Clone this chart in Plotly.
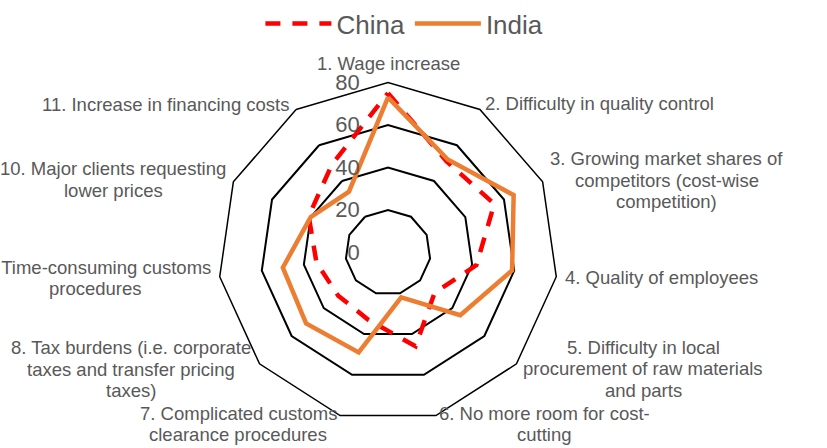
import plotly.graph_objects as go

# Survey categories (clockwise from the top)
categories = [
    "1. Wage increase",
    "2. Difficulty in quality control",
    "3. Growing market shares of competitors (cost-wise competition)",
    "4. Quality of employees",
    "5. Difficulty in local procurement of raw materials and parts",
    "6. No more room for cost-cutting",
    "7. Complicated customs clearance procedures",
    "8. Tax burdens (i.e. corporate taxes and transfer pricing taxes)",
    "9. Time-consuming customs procedures",
    "10. Major clients requesting lower prices",
    "11. Increase in financing costs",
]

china = [75, 51, 55, 42, 29, 46, 33, 31, 34, 41, 49]
india = [73, 52, 65, 59, 45, 22, 49, 51, 50, 40, 34]

radial_ticks = [0, 20, 40, 60, 80]

# Wrapped category labels as shown around the chart
label_lines = [
    ["1. Wage increase"],
    ["2. Difficulty in quality control"],
    ["3. Growing market shares of", "competitors (cost-wise", "competition)"],
    ["4. Quality of employees"],
    ["5. Difficulty in local", "procurement of raw materials", "and parts"],
    ["6. No more room for cost-", "cutting"],
    ["7. Complicated customs", "clearance procedures"],
    ["8. Tax burdens (i.e. corporate", "taxes and transfer pricing", "taxes)"],
    ["9. Time-consuming customs", "procedures"],
    ["10. Major clients requesting", "lower prices"],
    ["11. Increase in financing costs"],
]
# Pixel anchor (centre x, first-line y) of each wrapped label
label_pos = [
    (388, 64), (599, 103), (666.5, 158.5), (661, 277.5), (643, 347),
    (544.5, 413), (238, 413), (130.5, 347.5), (95.5, 267), (113, 169), (166, 104),
]

W, H = 827, 448
CX, CY, R = 388, 252.5, 170
GRAY = "#595959"
FONT = "Liberation Sans, Arial, sans-serif"
LINE_H = 21.5

fig = go.Figure()
fig.add_trace(go.Scatterpolar(
    r=china + china[:1], theta=categories + categories[:1],
    mode="lines", name="China",
    line=dict(color="#FF0000", width=4.5, dash="15px,12px"),
))
fig.add_trace(go.Scatterpolar(
    r=india + india[:1], theta=categories + categories[:1],
    mode="lines", name="India",
    line=dict(color="#ED7D31", width=4.5),
))

annotations = []
for lines, (px, py) in zip(label_lines, label_pos):
    for i, txt in enumerate(lines):
        annotations.append(dict(
            text=txt, xref="paper", yref="paper",
            x=px / W, y=1 - (py + i * LINE_H) / H,
            xanchor="center", yanchor="middle", showarrow=False,
            font=dict(family=FONT, size=18.5, color=GRAY),
        ))

fig.update_layout(
    width=W, height=H,
    margin=dict(l=0, r=0, t=0, b=0),
    paper_bgcolor="white", plot_bgcolor="white",
    font=dict(family=FONT, color=GRAY),
    showlegend=True,
    legend=dict(
        orientation="h", x=0.489, xanchor="center", y=1.0, yanchor="top",
        font=dict(family=FONT, size=26, color=GRAY),
        itemwidth=66, bgcolor="rgba(0,0,0,0)",
    ),
    polar=dict(
        domain=dict(x=[(CX - R) / W, (CX + R) / W],
                    y=[1 - (CY + R) / H, 1 - (CY - R) / H]),
        gridshape="linear",
        bgcolor="white",
        angularaxis=dict(
            direction="clockwise", rotation=90,
            showgrid=False, showticklabels=False, ticks="",
            showline=True, linecolor="black", linewidth=1.5,
        ),
        radialaxis=dict(
            range=[0, 80], tickvals=radial_ticks, angle=90, tickangle=90,
            showline=False, showgrid=True, gridcolor="black", gridwidth=1.5,
            ticks="outside", ticklen=20, tickcolor="rgba(0,0,0,0)",
            side="counterclockwise",
            tickfont=dict(family=FONT, size=22, color=GRAY),
        ),
    ),
    annotations=annotations,
)

fig.write_html("out.html")
